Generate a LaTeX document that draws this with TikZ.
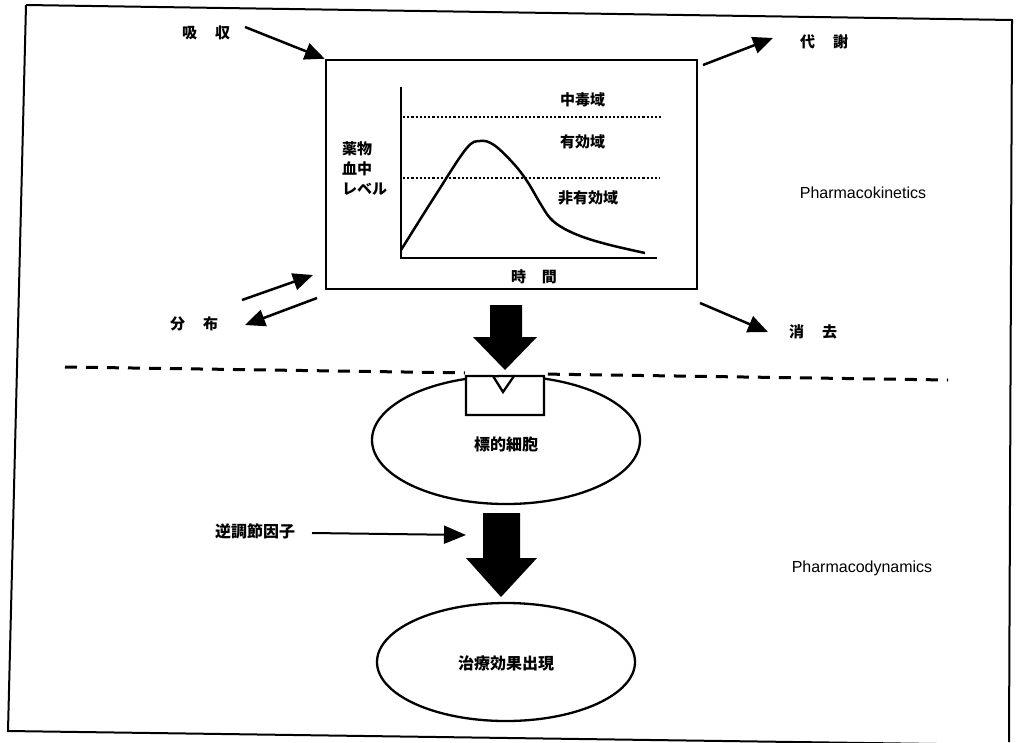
\documentclass[tikz,border=0pt]{standalone}
\usepackage{fontspec}
\setmainfont{Liberation Sans}
\newfontfamily\jp{Noto Sans CJK JP}
\usetikzlibrary{arrows.meta,shapes.geometric}
\begin{document}
\begin{tikzpicture}[x=1pt,y=-1pt,
  jl/.style={font=\jp\bfseries\fontsize{15}{20}\selectfont, inner sep=0pt},
  jm/.style={font=\jp\bfseries\fontsize{16}{20}\selectfont, inner sep=0pt},
  el/.style={font=\fontsize{16}{19}\selectfont, inner sep=0pt},
  thinarrow/.style={line width=2.5pt, -{Triangle[length=20pt,width=17pt]}},
  blockarrow/.style={fill=black},
  cell/.style={draw, ellipse, line width=2.3pt, inner sep=0pt},
  frame/.style={line width=2pt},
  dotline/.style={line width=2.2pt, dotted},
]
\useasboundingbox (0,0) rectangle (1016,742);

% outer frame
\draw[frame] (26,5) -- (1012,20) -- (1009,742);
\draw[frame] (26,5) -- (8,731) -- (1009,745);

% graph box
\node[draw, line width=2.5pt, minimum width=371pt, minimum height=229pt, inner sep=0pt] (box) at (511.5,174.5) {};
% axes
\draw[line width=2pt] (401,87) -- (401,258) -- (657,258);
% dotted levels
\draw[dotline] (403,117) -- (662,117);
\draw[dotline] (403,178) -- (660,178);
% curve
\draw[line width=2.5pt] plot[smooth, tension=0.6] coordinates {(401,250) (435,196) (466,149) (480,141) (494,145) (513,163) (527,181) (540,203) (550,218) (563,228) (583,237) (610,245) (645,253)};
% graph labels
\node[jl, anchor=west] (tox) at (560,100) {中毒域};
\node[jl, anchor=west] (eff) at (560,142) {有効域};
\node[jl, anchor=west] (noneff) at (558,198) {非有効域};
\node[jl, anchor=north west, align=left] (ylab) at (342,141) {薬物\\血中\\レベル};
\node[jl] (xlab) at (534,277) {時\hspace{16pt}間};

% outside labels
\node[jl] (abs) at (206,33) {吸\hspace{18pt}収};
\node[jl] (met) at (824,42) {代\hspace{18pt}謝};
\node[jl] (dist) at (194,324) {分\hspace{18pt}布};
\node[jl] (elim) at (813,332) {消\hspace{18pt}去};
\node[el] (pk) at (863,193) {Pharmacokinetics};
\node[el] (pd) at (862,568) {Pharmacodynamics};

% thin arrows
\coordinate (absS) at (245,27);
\draw[thinarrow] (absS) -- (box.north west);
\coordinate (metS) at (703,65);
\coordinate (metE) at (773,38);
\draw[thinarrow] (metS) -- (metE);
\coordinate (distA) at (242,300);
\coordinate (distB) at (313,275);
\draw[thinarrow] (distA) -- (distB);
\coordinate (distC) at (317,298);
\coordinate (distD) at (245,325);
\draw[thinarrow] (distC) -- (distD);
\coordinate (elimS) at (700,303);
\coordinate (elimE) at (768,332);
\draw[thinarrow] (elimS) -- (elimE);

% dashed separator (interrupted by the receptor)
\draw[line width=3pt, dash pattern=on 12pt off 9pt] (65,367) -- (948,380);
\fill[white] (465,362) rectangle (545,376);

% target cell
\node[cell, minimum width=268pt, minimum height=128pt] (target) at (506,440) {};
\node[jm] (targetlab) at (506,444) {標的細胞};
% receptor
\draw[line width=2.3pt, fill=white, line join=miter] (466,376) -- (493,376) -- (503,392) -- (514,376) -- (544,376) -- (544,415) -- (466,415) -- cycle;

% block arrow 1
\fill[blockarrow] (490,305) -- (522,305) -- (522,337) -- (537,337) -- (505,370) -- (473,337) -- (490,337) -- cycle;

% counter-regulatory factor
\node[jm] (counter) at (255,531) {逆調節因子};
\coordinate (counterS) at (312,533);
\coordinate (counterE) at (466,535);
\draw[line width=2pt, -{Triangle[length=22pt,width=18pt]}] (counterS) -- (counterE);

% block arrow 2
\fill[blockarrow] (483,513) -- (520,513) -- (520,558) -- (537,558) -- (501,597) -- (466,558) -- (483,558) -- cycle;

% effect
\node[cell, minimum width=258pt, minimum height=118pt] (effect) at (506,662) {};
\node[jm] (effectlab) at (506,663) {治療効果出現};
\end{tikzpicture}
\end{document}
